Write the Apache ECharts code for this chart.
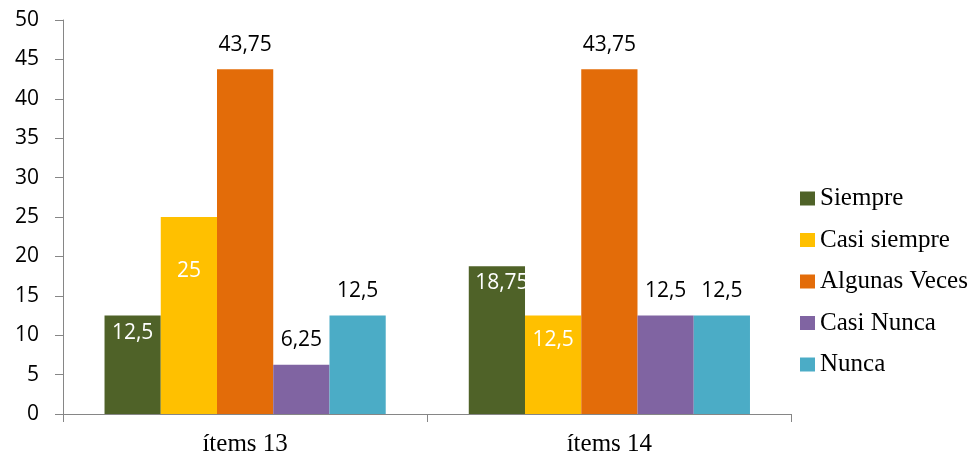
<!DOCTYPE html>
<html>
<head>
<meta charset="utf-8">
<script src="https://cdn.jsdelivr.net/npm/echarts@6/dist/echarts.min.js"></script>
<style>html,body{margin:0;padding:0;background:#fff;}#c{width:976px;height:460px;}</style>
</head>
<body>
<div id="c"></div>
<script>
// ---- data ----
const categories = ['ítems 13', 'ítems 14'];
const seriesNames = ['Siempre', 'Casi siempre', 'Algunas Veces', 'Casi Nunca', 'Nunca'];
const siempre = [12.5, 18.75];
const casiSiempre = [25, 12.5];
const algunasVeces = [43.75, 43.75];
const casiNunca = [6.25, 12.5];
const nunca = [12.5, 12.5];
const yTicks = [0, 5, 10, 15, 20, 25, 30, 35, 40, 45, 50];

// ---- styling ----
const colors = ['#4F6228', '#FFC000', '#E36C09', '#8064A2', '#4BACC6'];
// label placement per series per category: null = above bar, [dx, dy] = inside top with offset
const insidePlacement = [
  [[0, 7.5], [5, 6.5]],
  [[0, 43.5], [0, 14.5]],
  [null, null],
  [null, null],
  [null, null]
];

const values = [siempre, casiSiempre, algunasVeces, casiNunca, nunca];
const labelFont = 'Open Sans';
const serif = '"Liberation Serif", "Times New Roman", serif';

const series = values.map((vals, si) => ({
  name: seriesNames[si],
  type: 'bar',
  barGap: '0%',
  barCategoryGap: '22.8%',
  itemStyle: { color: colors[si] },
  data: vals.map((v, ci) => {
    const p = insidePlacement[si][ci];
    const fmt = String(v).replace('.', ',');
    const label = p ? {
      show: true, position: 'insideTop', distance: 0, offset: p,
      color: '#fff', fontFamily: labelFont, fontSize: 21, formatter: fmt
    } : {
      show: true, position: 'top', distance: 14,
      color: '#000', fontFamily: labelFont, fontSize: 21, formatter: fmt
    };
    return { value: v, label };
  })
}));

const chart = echarts.init(document.getElementById('c'), null, { renderer: 'canvas' });
chart.setOption({
  animation: false,
  color: colors,
  grid: { left: 63, right: 184.5, top: 20, bottom: 46, containLabel: false },
  legend: {
    orient: 'vertical',
    left: 795,
    top: 181,
    itemWidth: 15,
    itemHeight: 14,
    itemGap: 16.5,
    icon: 'rect',
    data: seriesNames,
    textStyle: { fontFamily: serif, fontSize: 25, color: '#000', lineHeight: 24 }
  },
  xAxis: {
    type: 'category',
    data: categories,
    axisLine: { lineStyle: { color: '#868686', width: 1 } },
    axisTick: { show: true, length: 8, lineStyle: { color: '#868686' } },
    axisLabel: { fontFamily: serif, fontSize: 25, color: '#000', margin: 18 }
  },
  yAxis: {
    type: 'value',
    min: yTicks[0],
    max: yTicks[yTicks.length - 1],
    interval: yTicks[1] - yTicks[0],
    axisLine: { show: true, lineStyle: { color: '#868686', width: 1 } },
    axisTick: { show: true, length: 8, lineStyle: { color: '#868686' } },
    splitLine: { show: false },
    axisLabel: { fontFamily: labelFont, fontSize: 21, color: '#000', margin: 24 }
  },
  series
});
</script>
</body>
</html>
